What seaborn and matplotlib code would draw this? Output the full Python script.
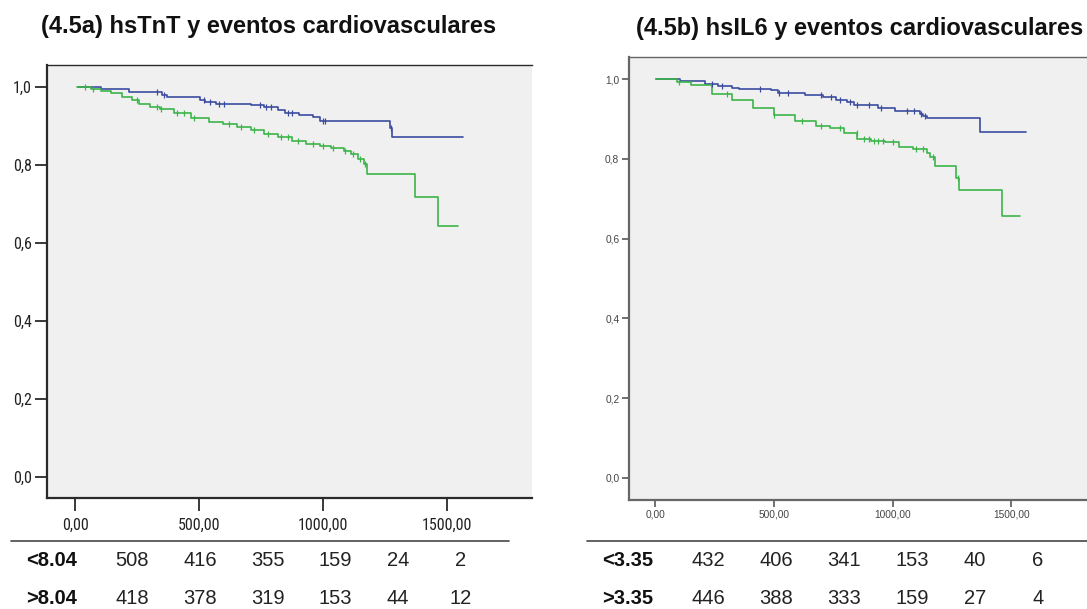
import numpy as np
import pandas as pd
import matplotlib
matplotlib.use("Agg")
import matplotlib.pyplot as plt
import seaborn as sns
from matplotlib import font_manager

# ---------------- data ----------------
titles = ["(4.5a) hsTnT y eventos cardiovasculares",
          "(4.5b) hsIL6 y eventos cardiovasculares"]
groups_a = ["<8.04", ">8.04"]
groups_b = ["<3.35", ">3.35"]

a_low_t = [13, 104, 216, 350, 371, 504, 525, 567, 708, 764, 820, 848, 904, 960, 989, 1269, 1280, 1564]
a_low_s = [1.0, 0.996, 0.987, 0.980, 0.974, 0.968, 0.962, 0.956, 0.953, 0.948, 0.941, 0.934, 0.928, 0.924, 0.914, 0.894, 0.871, 0.871]
a_high_t = [6, 62, 104, 146, 188, 230, 258, 300, 343, 399, 469, 539, 595, 652, 708, 764, 820, 876, 932, 989,
            1031, 1087, 1115, 1143, 1164, 1178, 1370, 1463, 1547]
a_high_s = [1.0, 0.996, 0.991, 0.984, 0.975, 0.967, 0.956, 0.950, 0.943, 0.934, 0.922, 0.911, 0.905, 0.897, 0.890,
            0.881, 0.873, 0.862, 0.854, 0.850, 0.845, 0.837, 0.828, 0.815, 0.802, 0.777, 0.719, 0.644, 0.644]

b_low_t = [3, 105, 208, 266, 325, 354, 486, 515, 632, 705, 763, 807, 836, 939, 1012, 1114, 1129, 1143, 1370, 1560]
b_low_s = [1.0, 0.995, 0.989, 0.984, 0.979, 0.975, 0.9725, 0.966, 0.960, 0.956, 0.949, 0.943, 0.935, 0.927,
           0.920, 0.914, 0.9075, 0.902, 0.868, 0.868]
b_high_t = [3, 90, 149, 237, 325, 412, 500, 588, 675, 734, 793, 851, 909, 968, 1026, 1085, 1143, 1158, 1180,
            1268, 1278, 1462, 1538]
b_high_s = [1.0, 0.993, 0.985, 0.964, 0.9475, 0.929, 0.910, 0.896, 0.8825, 0.877, 0.864, 0.849, 0.846, 0.843,
            0.831, 0.824, 0.816, 0.806, 0.783, 0.752, 0.721, 0.656, 0.656]

# censoring marks (times)
a_low_c = [330, 360, 520, 545, 580, 600, 745, 770, 790, 860, 875, 1000, 1010, 1275]
a_high_c = [40, 70, 250, 330, 345, 410, 440, 480, 620, 670, 720, 780, 830, 860, 900, 960, 1000, 1040,
            1090, 1120, 1150, 1170]
b_low_c = [240, 280, 440, 520, 560, 700, 740, 780, 820, 850, 900, 950, 1060, 1090, 1120, 1135]
b_high_c = [100, 300, 500, 620, 700, 780, 850, 880, 900, 920, 940, 960, 1000, 1100, 1130, 1170, 1275]

risk_a = [[508, 416, 355, 159, 24, 2], [418, 378, 319, 153, 44, 12]]
risk_b = [[432, 406, 341, 153, 40, 6], [446, 388, 333, 159, 27, 4]]

x_ticks = [0, 500, 1000, 1500]
y_ticks = [0.0, 0.2, 0.4, 0.6, 0.8, 1.0]

# ---------------- style ----------------
sns.set_theme(style="white")
plt.rcParams["font.family"] = ["Liberation Sans", "DejaVu Sans"]

# pick a condensed face if one is installed
_names = {f.name for f in font_manager.fontManager.ttflist}
_cond = [f for f in font_manager.fontManager.ttflist
         if ("Narrow" in f.name or "Condensed" in f.name or f.stretch in ("condensed", "semi-condensed", 600, 500))]
NARROW_KW = dict(family=["Liberation Sans", "DejaVu Sans"])
for pref in ["Liberation Sans Narrow", "Arial Narrow", "Roboto Condensed", "Open Sans Condensed", "DejaVu Sans Condensed"]:
    if pref in _names:
        NARROW_KW = dict(family=[pref, "DejaVu Sans"])
        break
else:
    for f in _cond:
        if f.style == "normal" and f.weight in (400, "normal", "regular"):
            NARROW_KW = dict(fname=f.fname)
            break

BLUE = "#3b4ca0"
GREEN = "#3cb54a"
BG = "#f0f0f0"

W, H = 1087, 609
fig = plt.figure(figsize=(W / 100, H / 100), dpi=100)


def box(x0, y0, x1, y1):
    return [x0 / W, 1 - y1 / H, (x1 - x0) / W, (y1 - y0) / H]


def fx(x):
    return x / W


def fy(y):
    return 1 - y / H


def step_at(ts, ss, c):
    idx = np.searchsorted(np.asarray(ts), np.asarray(c), side="right") - 1
    return np.asarray(ss)[np.clip(idx, 0, None)]


def draw_panel(ax, series, censors, xlim, ylim, spine_col, tick_kw, tick_len):
    frames = []
    for name, (t, s) in series.items():
        frames.append(pd.DataFrame({"t": t, "S": s, "g": name}))
    df = pd.concat(frames, ignore_index=True)
    pal = dict(zip(series.keys(), [BLUE, GREEN]))
    sns.lineplot(data=df, x="t", y="S", hue="g", palette=pal, drawstyle="steps-post",
                 estimator=None, sort=False, legend=False, linewidth=1.2, ax=ax)
    for (name, (t, s)), c, col in zip(series.items(), censors, [BLUE, GREEN]):
        cs = step_at(t, s, c)
        ax.plot(c, cs, linestyle="none", marker="|", markersize=5, markeredgewidth=0.9, color=col)
    ax.set_facecolor(BG)
    ax.set_xlim(*xlim)
    ax.set_ylim(*ylim)
    ax.set_xticks(x_ticks)
    ax.set_yticks(y_ticks)
    xl = [f"{v:.2f}".replace(".", ",") for v in x_ticks]
    yl = [f"{v:.1f}".replace(".", ",") for v in y_ticks]
    if "fname" in tick_kw:
        fp = font_manager.FontProperties(fname=tick_kw["fname"], size=tick_kw["fontsize"])
        ax.set_xticklabels(xl, fontproperties=fp, color=tick_kw["color"])
        ax.set_yticklabels(yl, fontproperties=fp, color=tick_kw["color"])
    else:
        ax.set_xticklabels(xl, **tick_kw)
        ax.set_yticklabels(yl, **tick_kw)
    ax.set_xlabel("")
    ax.set_ylabel("")
    ax.spines["right"].set_visible(False)
    for sp in ["left", "bottom"]:
        ax.spines[sp].set_color(spine_col)
        ax.spines[sp].set_linewidth(1.6)
    ax.spines["top"].set_color(spine_col)
    ax.spines["top"].set_linewidth(1.0)
    ax.tick_params(axis="both", direction="out", length=tick_len, width=1.3, color=spine_col,
                   left=True, bottom=True, pad=2)


# ---------------- left panel ----------------
axA = fig.add_axes(box(47, 65, 532, 498))
draw_panel(axA, {groups_a[0]: (a_low_t, a_low_s), groups_a[1]: (a_high_t, a_high_s)},
           [a_low_c, a_high_c], (-114, 1844), (-0.055, 1.057), "#2a2a2a",
           dict(NARROW_KW, fontsize=11.5, color="#222222"), 9)
axA.tick_params(axis="x", pad=5)

# ---------------- right panel ----------------
axB = fig.add_axes(box(629, 57, 1087, 500))
draw_panel(axB, {groups_b[0]: (b_low_t, b_low_s), groups_b[1]: (b_high_t, b_high_s)},
           [b_low_c, b_high_c], (-111, 1819), (-0.056, 1.056), "#666666",
           dict(fontsize=7.3, color="#444444"), 5)

# ---------------- titles ----------------
fig.text(fx(269), fy(27), titles[0], ha="center", va="center", fontsize=17, fontweight="bold", color="#111111")
fig.text(fx(860), fy(28), titles[1], ha="center", va="center", fontsize=17, fontweight="bold", color="#111111")

# ---------------- number at risk tables ----------------
fig.add_artist(plt.Line2D([fx(11), fx(509)], [fy(541), fy(541)], color="#555555", linewidth=1.3))
fig.add_artist(plt.Line2D([fx(587), fx(1087)], [fy(541), fy(541)], color="#555555", linewidth=1.3))

cols_a = [132, 200, 268, 335, 398, 461]
cols_b = [708, 776, 844, 912, 975, 1038]
rows_y = [561, 599]
for r in range(2):
    fig.text(fx(26), fy(rows_y[r]), groups_a[r], ha="left", va="center", fontsize=14.5,
             fontweight="bold", color="#111111")
    fig.text(fx(602), fy(rows_y[r]), groups_b[r], ha="left", va="center", fontsize=14.5,
             fontweight="bold", color="#111111")
    for c in range(6):
        fig.text(fx(cols_a[c]), fy(rows_y[r]), str(risk_a[r][c]), ha="center", va="center",
                 fontsize=14.5, color="#222222")
        fig.text(fx(cols_b[c]), fy(rows_y[r]), str(risk_b[r][c]), ha="center", va="center",
                 fontsize=14.5, color="#222222")

fig.savefig("out.png", dpi=100)
